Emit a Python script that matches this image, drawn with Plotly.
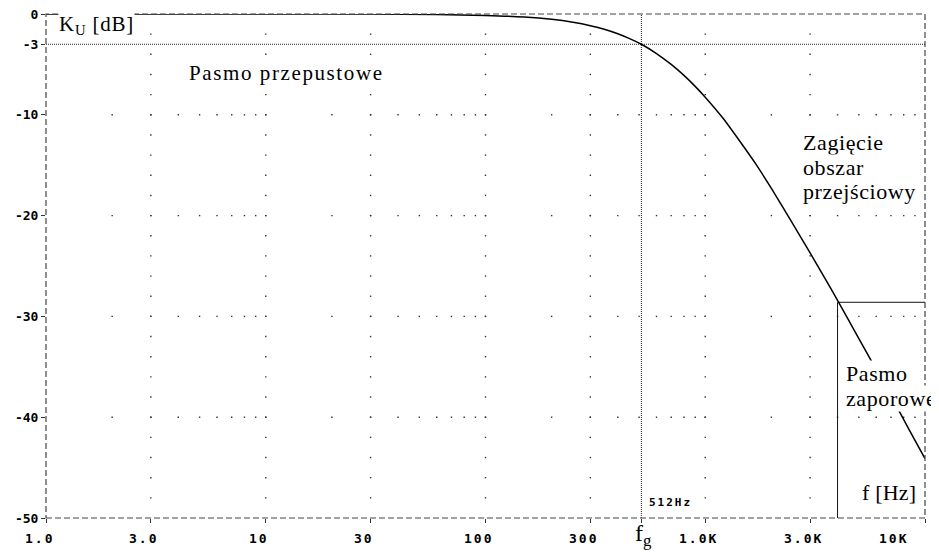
import math
import plotly.graph_objects as go

# ---- data ----
freq_hz = [1, 10, 30, 60, 100, 150, 200, 250, 300, 350, 400, 450, 512, 600,
           700, 800, 900, 1000, 1200, 1500, 1700, 2000, 2500, 3000, 3500, 4000,
           5000, 6000, 7000, 8500, 10000]
gain_db = [0, 0, -0.01, -0.05, -0.14, -0.30, -0.53, -0.82, -1.16, -1.54, -1.96,
           -2.42, -3.0, -3.92, -5.0, -6.09, -7.18, -8.25, -10.3, -13.2, -14.9,
           -17.3, -20.8, -23.7, -26.2, -28.4, -32.2, -35.3, -37.9, -41.3, -44.1]

x_tick_vals = [1, 3, 10, 30, 100, 300, 1000, 3000, 10000]
x_tick_text = ["1.0", "3.0", "10", "30", "100", "300", "1.0K", "3.0K", "10K"]
y_tick_vals = [0, -3, -10, -20, -30, -40, -50]
y_tick_text = ["0", "-3", "-10", "-20", "-30", "-40", "-50"]

cutoff_hz = 512
cutoff_db = -3
stop_edge_hz = 4000
stop_edge_db = -28.6
x_min, x_max = 1, 10000
y_min, y_max = -50, 0

grid_x_major = [3, 10, 30, 100, 300, 1000, 3000]
grid_y_minor = list(range(-2, -50, -2))
grid_y_major = [-10, -20, -30, -40]
grid_x_minor = [k * 10 ** d for d in range(4) for k in range(2, 11)]

# ---- layout (page pixels; the page body adds an 8px offset) ----
OFF = 8
W, H = 939 - OFF, 554 - OFF
L, R, T, B = 46, 14, 14, 36          # plot area in page pixels
PW, PH = 939 - L - R, 554 - T - B


def px(x):
    return (x - L) / PW


def py(y):
    return (554 - B - y) / PH


fig = go.Figure()

# dotted grid
gx, gy = [], []
for xv in grid_x_major:
    for yv in grid_y_minor:
        gx.append(xv)
        gy.append(yv)
for yv in grid_y_major:
    for xv in grid_x_minor:
        if xv < x_max:
            gx.append(xv)
            gy.append(yv)
fig.add_trace(go.Scatter(x=gx, y=gy, mode="markers",
                         marker=dict(symbol="square", size=1.4, color="#333"),
                         hoverinfo="skip", showlegend=False))

# -3 dB line and cutoff line
fig.add_trace(go.Scatter(x=[x_min, x_max], y=[cutoff_db, cutoff_db], mode="lines",
                         line=dict(color="#222", width=1, dash="1px,1px"),
                         hoverinfo="skip", showlegend=False))
fig.add_trace(go.Scatter(x=[cutoff_hz, cutoff_hz], y=[y_min, y_max], mode="lines",
                         line=dict(color="#222", width=1, dash="1px,1px"),
                         hoverinfo="skip", showlegend=False))

# stop band box
fig.add_trace(go.Scatter(x=[stop_edge_hz, stop_edge_hz, x_max],
                         y=[y_min, stop_edge_db, stop_edge_db], mode="lines",
                         line=dict(color="#111", width=1),
                         hoverinfo="skip", showlegend=False))

# response curve
fig.add_trace(go.Scatter(x=freq_hz, y=gain_db, mode="lines",
                         line=dict(color="black", width=1.5, shape="spline",
                                   smoothing=0.6),
                         showlegend=False))

# dashed frame
fig.add_shape(type="rect", xref="paper", yref="paper", x0=0, x1=1, y0=0, y1=1,
              line=dict(color="#444", width=1.2, dash="6px,3px"), layer="above")

mono = dict(family="DejaVu Sans Mono", size=13, color="black", weight="bold")
serif = "Liberation Serif, Times New Roman, DejaVu Serif, serif"

ann = []
for v, t in zip(x_tick_vals, x_tick_text):
    shift = -32 if v == x_max else -7
    ann.append(dict(x=math.log10(v), xref="x", y=py(538), yref="paper",
                    text='<span style="letter-spacing:2px">%s</span>' % t,
                    showarrow=False, xanchor="center", yanchor="middle",
                    xshift=shift, font=mono))


def label(text, x, y, size=22, sp=0.6, bg="white"):
    ann.append(dict(x=px(x), y=py(y), xref="paper", yref="paper",
                    text='<span style="letter-spacing:%spx">%s</span>' % (sp, text),
                    showarrow=False, xanchor="left", yanchor="middle",
                    font=dict(family=serif, size=size, color="black"),
                    bgcolor=bg, borderpad=0))


label("K<sub>U</sub> [dB]", 58, 25, size=21, sp=0.8)
label("Pasmo przepustowe", 188, 73, size=21, sp=1.6)
label("Zagięcie", 802, 142)
label("obszar", 802, 167)
label("przejściowy", 802, 191)
label("Pasmo", 845, 373)
label("zaporowe", 845, 398)
label("f [Hz]", 861, 492, sp=0.2)
label("f<sub>g</sub>", 634, 535, size=24, sp=0, bg="rgba(0,0,0,0)")
ann.append(dict(x=px(647), y=py(502), xref="paper", yref="paper",
                text='<span style="letter-spacing:2px">512Hz</span>',
                showarrow=False, xanchor="left", yanchor="middle",
                font=dict(family="DejaVu Sans Mono", size=11, color="black",
                          weight="bold")))

fig.update_layout(
    width=W, height=H, margin=dict(l=L - OFF, r=R, t=T - OFF, b=B),
    paper_bgcolor="white", plot_bgcolor="white",
    annotations=ann, showlegend=False,
    xaxis=dict(type="log", range=[math.log10(x_min), math.log10(x_max)],
               showgrid=False, zeroline=False, showline=False, automargin=False,
               tickvals=x_tick_vals + [cutoff_hz], showticklabels=False,
               ticks="outside", ticklen=4, tickcolor="#333"),
    yaxis=dict(range=[y_min, y_max], showgrid=False, zeroline=False,
               showline=False, automargin=False, ticklabeloverflow="allow",
               tickvals=y_tick_vals, ticktext=y_tick_text,
               ticks="outside", ticklen=4, tickcolor="#333", tickfont=mono),
)

fig.write_html("out.html")
